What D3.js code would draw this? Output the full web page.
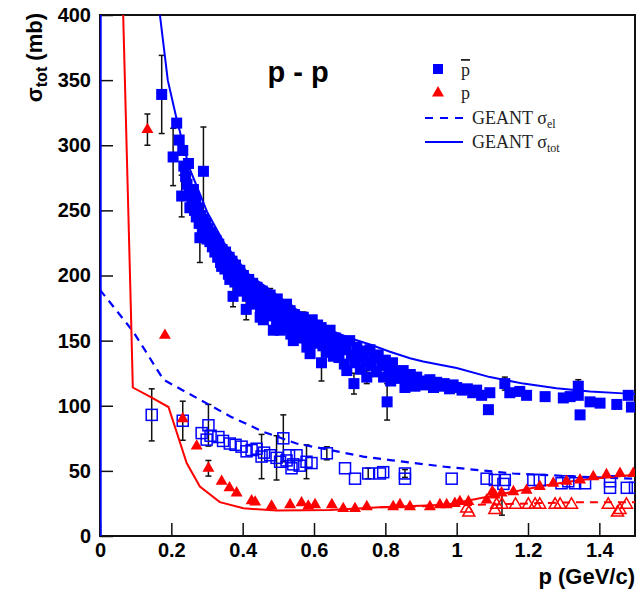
<!DOCTYPE html>
<html>
<head>
<meta charset="utf-8">
<script src="https://cdn.jsdelivr.net/npm/d3@7/dist/d3.min.js"></script>
<style>
	body { margin: 0; background: #fff; }
	svg { display: block; }
	.axis text { font-family: "Liberation Sans", Arial, sans-serif; font-weight: bold; font-size: 20px; fill: #000; }
	.legend text { font-family: "Liberation Serif", "Times New Roman", serif; font-size: 18px; fill: #222; }
</style>
</head>
<body>
<script>
"use strict";

// [p (GeV/c), sigma (mb), error (mb)] -- error 0 means no bar drawn
const pbarTot = [
	[0.173, 339, 30], [0.205, 291, 22], [0.215, 317, 0], [0.222, 304, 0], [0.229, 261, 16],
	[0.232, 296, 0], [0.235, 284, 0], [0.24, 276, 0], [0.244, 270, 0], [0.248, 286, 0],
	[0.25, 264, 0], [0.252, 252, 0], [0.255, 262, 0], [0.258, 256, 0],
	[0.262, 266, 0], [0.265, 250, 0], [0.268, 258, 0], [0.27, 245, 0], [0.275, 252, 8],
	[0.278, 240, 0], [0.28, 229, 19], [0.283, 246, 0], [0.287, 236, 0], [0.29, 280, 34],
	[0.29, 243, 0], [0.293, 232, 0], [0.297, 240, 0], [0.30, 228, 0], [0.303, 236, 0],
	[0.308, 226, 0], [0.31, 233, 0], [0.315, 222, 0], [0.318, 230, 0], [0.322, 218, 0],
	[0.325, 227, 0], [0.33, 214, 0], [0.333, 224, 0], [0.338, 210, 0], [0.341, 207, 0],
	[0.342, 220, 0], [0.347, 214, 0], [0.35, 205, 0], [0.352, 218, 0], [0.357, 210, 0],
	[0.36, 201, 0], [0.362, 214, 0], [0.364, 197, 0], [0.367, 207, 0], [0.37, 211, 0],
	[0.373, 184, 8], [0.375, 202, 0], [0.378, 195, 0], [0.38, 208, 0], [0.385, 200, 0],
	[0.388, 191, 0], [0.392, 204, 0], [0.396, 196, 0], [0.40, 188, 0], [0.402, 200, 0],
	[0.407, 193, 0], [0.41, 174, 8], [0.413, 184, 0], [0.417, 197, 0], [0.42, 189, 0],
	[0.425, 181, 0], [0.428, 194, 0], [0.433, 186, 0], [0.437, 178, 0], [0.44, 191, 0],
	[0.445, 183, 0], [0.449, 168, 0], [0.45, 175, 0],
	[0.455, 188, 0], [0.458, 166, 0], [0.46, 180, 0], [0.465, 173, 0], [0.47, 185, 0],
	[0.473, 177, 0], [0.477, 185, 5], [0.48, 169, 0], [0.485, 180, 0], [0.486, 158, 0],
	[0.49, 174, 0], [0.495, 164, 0], [0.497, 182, 0], [0.50, 170, 0], [0.505, 158, 0],
	[0.508, 177, 0], [0.512, 165, 0], [0.515, 172, 0], [0.52, 160, 0], [0.523, 178, 0],
	[0.527, 168, 0], [0.533, 173, 4], [0.535, 155, 0], [0.538, 162, 0], [0.542, 150, 0],
	[0.545, 170, 0], [0.55, 158, 0],
	[0.555, 166, 0], [0.56, 152, 0], [0.565, 163, 0], [0.57, 168, 4], [0.575, 156, 0],
	[0.58, 145, 0], [0.583, 162, 0], [0.589, 140, 0], [0.59, 153, 0], [0.595, 166, 0],
	[0.60, 158, 0], [0.605, 148, 0], [0.61, 162, 0], [0.615, 153, 0], [0.62, 160, 0],
	[0.621, 133, 14], [0.625, 146, 0], [0.63, 155, 0], [0.635, 141, 0], [0.64, 150, 0],
	[0.645, 158, 0], [0.65, 144, 0], [0.654, 138, 0],
	[0.66, 152, 0], [0.665, 146, 0], [0.67, 137, 0], [0.675, 150, 0], [0.68, 143, 0],
	[0.685, 132, 0], [0.69, 147, 0], [0.692, 127, 0], [0.70, 150, 0], [0.705, 139, 0],
	[0.712, 117, 8], [0.715, 133, 0], [0.72, 145, 0], [0.725, 137, 0], [0.73, 128, 0],
	[0.738, 142, 0], [0.745, 134, 0], [0.748, 122, 5], [0.757, 143, 0], [0.76, 131, 0],
	[0.768, 137, 0], [0.775, 126, 0], [0.78, 139, 0], [0.79, 131, 0], [0.795, 122, 0],
	[0.80, 135, 0], [0.805, 103, 14], [0.81, 127, 0], [0.815, 119, 0], [0.82, 133, 0],
	[0.83, 126, 0], [0.84, 121, 0], [0.85, 127, 0], [0.855, 114, 0],
	[0.868, 118, 0], [0.87, 124, 0], [0.883, 115, 0], [0.888, 122, 0], [0.90, 119, 0],
	[0.91, 116, 0], [0.925, 120, 0], [0.935, 114, 0], [0.944, 118, 0], [0.955, 115, 0],
	[0.965, 117, 0], [0.98, 113, 0], [0.99, 116, 0], [1.0, 114, 0], [1.015, 112, 0],
	[1.03, 113, 0], [1.045, 110, 0], [1.056, 112, 0], [1.07, 108, 0], [1.089, 97, 0],
	[1.093, 110, 0], [1.135, 117, 5], [1.149, 110, 0], [1.177, 111, 0], [1.196, 108, 0],
	[1.248, 107, 0], [1.299, 106, 0], [1.318, 107, 0], [1.341, 115, 5], [1.341, 108, 0],
	[1.346, 93, 0], [1.374, 103, 0], [1.402, 102, 0], [1.449, 101, 0], [1.481, 108, 3],
	[1.49, 99, 0]
];

const pbarEl = [
	[0.145, 93, 20], [0.232, 88.5, 15], [0.304, 85, 16], [0.285, 79, 0], [0.299, 74, 0],
	[0.31, 77, 0], [0.332, 76, 0], [0.345, 73, 0], [0.364, 71, 0], [0.38, 70, 0],
	[0.397, 68.6, 0], [0.411, 65, 0], [0.425, 66, 0], [0.439, 67, 0], [0.453, 61, 17],
	[0.46, 64, 0], [0.477, 62, 0], [0.495, 60, 17], [0.505, 57, 0], [0.514, 75, 18],
	[0.523, 58, 0], [0.53, 62, 0], [0.537, 52, 0], [0.542, 55, 0], [0.551, 62, 0],
	[0.56, 54, 0], [0.579, 57, 13], [0.593, 56, 0], [0.636, 63.5, 5], [0.687, 52, 0],
	[0.715, 44, 0], [0.752, 48, 4], [0.785, 48, 0], [0.794, 49, 0], [0.855, 48, 3],
	[0.855, 44, 0], [0.986, 44, 0], [1.084, 44, 0], [1.107, 43, 0], [1.135, 43, 0],
	[1.131, 40, 0], [1.215, 43, 0], [1.233, 43, 0], [1.294, 40.5, 0], [1.313, 42, 0],
	[1.332, 40.5, 0], [1.36, 40.5, 0], [1.43, 42, 0], [1.43, 37, 0], [1.477, 37, 0],
	[1.5, 37, 0]
];

const pTot = [
	[0.133, 312, 12], [0.182, 154, 0], [0.232, 90, 0], [0.271, 69, 0], [0.304, 52, 6],
	[0.341, 42, 0], [0.363, 37, 0], [0.383, 33, 0], [0.425, 27, 0], [0.435, 26, 0],
	[0.481, 23, 0], [0.533, 24, 0], [0.565, 25.5, 0], [0.584, 23, 0], [0.603, 24, 0],
	[0.65, 24, 0], [0.682, 21, 0], [0.715, 21, 0], [0.748, 22.5, 0], [0.822, 22.5, 0],
	[0.841, 24, 0], [0.869, 22.5, 0], [0.925, 22.5, 0], [0.953, 24, 0], [0.972, 24, 0],
	[0.995, 25, 0], [1.009, 26.4, 0], [1.033, 26.4, 0], [1.084, 27.6, 0], [1.10, 34, 0],
	[1.107, 31.5, 0], [1.126, 33, 0], [1.159, 34, 0], [1.196, 35, 0], [1.233, 38, 0],
	[1.271, 40.5, 0], [1.308, 42, 0], [1.346, 43, 0], [1.383, 45.5, 0], [1.42, 47, 0],
	[1.458, 48, 0], [1.495, 48, 0]
];

const pEl = [
	[1.028, 21, 0], [1.034, 18, 0], [1.107, 20, 0], [1.112, 24, 0], [1.127, 24, 8],
	[1.165, 24, 0], [1.201, 24, 0], [1.22, 24, 0], [1.233, 24, 0], [1.276, 24, 0],
	[1.29, 24, 0], [1.322, 24, 0], [1.425, 24, 0], [1.451, 18, 0], [1.458, 20, 0],
	[1.476, 24, 0]
];

// GEANT curves [p, sigma]
const geantPbarTot = [
	[0.002, 0], [0.002, 2000], [0.15, 460], [0.168, 400], [0.19, 350], [0.215, 320],
	[0.25, 283], [0.30, 249], [0.35, 224], [0.42, 200], [0.477, 189], [0.533, 177],
	[0.589, 167], [0.645, 158], [0.70, 152], [0.757, 147], [0.813, 141.5], [0.869, 136.5],
	[0.906, 134], [1.0, 129], [1.093, 122], [1.187, 117], [1.28, 113.5], [1.374, 111],
	[1.467, 109.5], [1.5, 109]
];
const geantPbarEl = [
	[0, 189], [0.093, 157], [0.178, 120], [0.271, 106], [0.364, 92], [0.458, 80],
	[0.551, 71], [0.645, 66], [0.738, 61], [0.813, 58.3], [0.972, 53], [1.159, 48],
	[1.346, 45.5], [1.5, 44]
];
const geantPTot = [
	[0.062, 430], [0.065, 400], [0.086, 180], [0.092, 114], [0.14, 107], [0.192, 99],
	[0.243, 56], [0.28, 38], [0.336, 26], [0.402, 21.3], [0.495, 19.5], [0.645, 20],
	[0.785, 22], [0.972, 24], [1.065, 29], [1.159, 34], [1.252, 39], [1.346, 43],
	[1.44, 45.5], [1.5, 47]
];
const geantPEl = [
	[0.785, 22], [1.0, 23.5], [1.2, 25], [1.35, 26], [1.5, 26]
];

const xTicks = [0, 0.2, 0.4, 0.6, 0.8, 1, 1.2, 1.4];
const xTickLabels = ["0", "0.2", "0.4", "0.6", "0.8", "1", "1.2", "1.4"];
const yTicks = [0, 50, 100, 150, 200, 250, 300, 350, 400];

const blue = "#0000ff";
const red = "#ff0000";

const w = 642, h = 593;
const margin = { top: 15, right: 7, bottom: 57, left: 100 };
const width = w - margin.left - margin.right;
const height = h - margin.top - margin.bottom;

const x = d3.scaleLinear().domain([0, 1.5]).range([0, width]);
const y = d3.scaleLinear().domain([0, 400]).range([height, 0]);

const svg = d3.select("body").append("svg")
	.attr("width", w)
	.attr("height", h);

const chart = svg.append("g")
	.attr("transform", `translate(${margin.left},${margin.top})`);

chart.append("clipPath").attr("id", "plot-clip")
	.append("rect").attr("width", width).attr("height", height);

// axes, ticks pointing inward like ROOT
const xAxis = chart.append("g").attr("class", "axis")
	.attr("transform", `translate(0,${height})`);
xAxis.call(d3.axisBottom(x).tickValues(x.ticks(30)).tickSize(-6).tickFormat(""));
xAxis.call(d3.axisBottom(x).tickValues(xTicks).tickSize(-13).tickPadding(7)
	.tickFormat((d, i) => xTickLabels[i]));

const yAxis = chart.append("g").attr("class", "axis");
yAxis.call(d3.axisLeft(y).tickValues(y.ticks(40)).tickSize(-6).tickFormat(""));
yAxis.call(d3.axisLeft(y).tickValues(yTicks).tickSize(-13).tickPadding(9));

chart.selectAll(".axis .domain").remove();
chart.selectAll(".axis line").attr("stroke", "#111").attr("stroke-width", 1.5);

chart.append("rect")
	.attr("width", width)
	.attr("height", height)
	.attr("fill", "none")
	.attr("stroke", "#111")
	.attr("stroke-width", 2);

const plot = chart.append("g").attr("clip-path", "url(#plot-clip)");

const line = d3.line().x(d => x(d[0])).y(d => y(d[1]));

// error bars first, markers on top
const withErr = [].concat(pbarTot, pbarEl, pTot, pEl).filter(d => d[2] > 0);
const bars = plot.append("g")
	.attr("stroke", "#111")
	.attr("stroke-width", 1.5)
	.selectAll("g").data(withErr).join("g");
bars.append("line")
	.attr("x1", d => x(d[0])).attr("x2", d => x(d[0]))
	.attr("y1", d => y(d[1] - d[2])).attr("y2", d => y(d[1] + d[2]));
bars.append("line")
	.attr("x1", d => x(d[0]) - 3).attr("x2", d => x(d[0]) + 3)
	.attr("y1", d => y(d[1] - d[2])).attr("y2", d => y(d[1] - d[2]));
bars.append("line")
	.attr("x1", d => x(d[0]) - 3).attr("x2", d => x(d[0]) + 3)
	.attr("y1", d => y(d[1] + d[2])).attr("y2", d => y(d[1] + d[2]));

// GEANT curves
plot.append("path").datum(geantPbarTot)
	.attr("d", line).attr("fill", "none").attr("stroke", blue).attr("stroke-width", 2);
plot.append("path").datum(geantPbarEl)
	.attr("d", line).attr("fill", "none").attr("stroke", blue).attr("stroke-width", 2.2)
	.attr("stroke-dasharray", "8,6");
plot.append("path").datum(geantPTot)
	.attr("d", line).attr("fill", "none").attr("stroke", red).attr("stroke-width", 2);
plot.append("path").datum(geantPEl)
	.attr("d", line).attr("fill", "none").attr("stroke", red).attr("stroke-width", 2)
	.attr("stroke-dasharray", "8,6");

const tri = d3.symbol(d3.symbolTriangle, 62);

plot.append("g").selectAll("rect").data(pbarEl).join("rect")
	.attr("x", d => x(d[0]) - 5.5).attr("y", d => y(d[1]) - 5.5)
	.attr("width", 11).attr("height", 11)
	.attr("fill", "none").attr("stroke", blue).attr("stroke-width", 1.5);

plot.append("g").selectAll("path").data(pEl).join("path")
	.attr("d", tri)
	.attr("transform", d => `translate(${x(d[0])},${y(d[1])})`)
	.attr("fill", "none").attr("stroke", red).attr("stroke-width", 1.5);

plot.append("g").selectAll("path").data(pTot).join("path")
	.attr("d", tri)
	.attr("transform", d => `translate(${x(d[0])},${y(d[1])})`)
	.attr("fill", red);

plot.append("g").selectAll("rect").data(pbarTot).join("rect")
	.attr("x", d => x(d[0]) - 5.5).attr("y", d => y(d[1]) - 5.5)
	.attr("width", 11).attr("height", 11)
	.attr("fill", blue);

// titles
svg.append("text")
	.attr("transform", "translate(42,13) rotate(-90)")
	.attr("text-anchor", "end")
	.style("font-family", "'Liberation Sans', Arial, sans-serif")
	.style("font-weight", "bold")
	.style("font-size", "22px")
	.call(t => {
		t.append("tspan").text("σ");
		t.append("tspan").attr("dy", 5).style("font-size", "16px").text("tot");
		t.append("tspan").attr("dy", -5).text(" (mb)");
	});

svg.append("text")
	.attr("x", 635)
	.attr("y", 584)
	.attr("text-anchor", "end")
	.style("font-family", "'Liberation Sans', Arial, sans-serif")
	.style("font-weight", "bold")
	.style("font-size", "22px")
	.text("p (GeV/c)");

svg.append("text")
	.attr("x", 298)
	.attr("y", 82)
	.attr("text-anchor", "middle")
	.style("font-family", "'Liberation Sans', Arial, sans-serif")
	.style("font-weight", "bold")
	.style("font-size", "29px")
	.text("p - p");

// legend
const legend = svg.append("g").attr("class", "legend");
legend.append("rect").attr("x", 433).attr("y", 64).attr("width", 10).attr("height", 10).attr("fill", blue);
legend.append("text").attr("x", 461).attr("y", 76)
	.append("tspan").style("text-decoration", "overline").text("p");
legend.append("path").attr("d", tri).attr("transform", "translate(438,93)").attr("fill", red);
legend.append("text").attr("x", 461).attr("y", 99).text("p");
legend.append("line").attr("x1", 425).attr("x2", 463).attr("y1", 118).attr("y2", 118)
	.attr("stroke", blue).attr("stroke-width", 2).attr("stroke-dasharray", "8,7");
legend.append("text").attr("x", 472).attr("y", 124)
	.call(t => {
		t.append("tspan").text("GEANT σ");
		t.append("tspan").attr("dy", 4).style("font-size", "12px").text("el");
	});
legend.append("line").attr("x1", 425).attr("x2", 463).attr("y1", 142).attr("y2", 142)
	.attr("stroke", blue).attr("stroke-width", 2);
legend.append("text").attr("x", 472).attr("y", 148)
	.call(t => {
		t.append("tspan").text("GEANT σ");
		t.append("tspan").attr("dy", 4).style("font-size", "12px").text("tot");
	});
</script>
</body>
</html>
